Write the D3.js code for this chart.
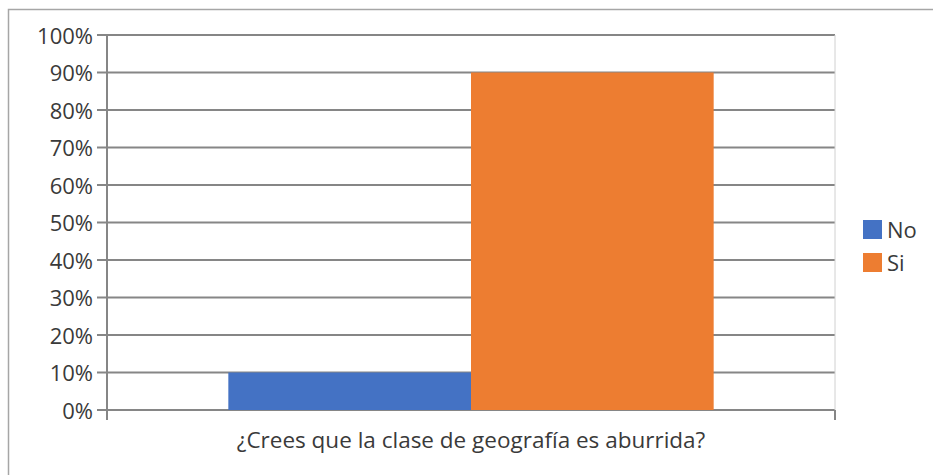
<!DOCTYPE html>
<html>
<head>
<meta charset="utf-8">
<script src="https://unpkg.com/d3@7.8.5/dist/d3.min.js"></script>
<style>
  body { margin: 0; background: #fff; }
  text { font-family: "Open Sans", "Liberation Sans", sans-serif; fill: #3a3a3a; }
</style>
</head>
<body>
<div id="chart"></div>
<script>
let category = "¿Crees que la clase de geografía es aburrida?";
let series = ["No", "Si"];
let values = [0.10, 0.90];
let colors = ["#4472C4", "#ED7D31"];
let ticks = [0, 0.1, 0.2, 0.3, 0.4, 0.5, 0.6, 0.7, 0.8, 0.9, 1.0];

let width = 933;
let height = 475;
let margin = {top: 35, right: 98, bottom: 65, left: 107};

let svg = d3.select("#chart").append("svg")
    .attr("width", width)
    .attr("height", height);

// outer chart border (only top/left visible in the crop)
svg.append("path")
    .attr("d", `M8.5,${height} V9.5 H${width}`)
    .attr("fill", "none")
    .attr("stroke", "#a6a6a6")
    .attr("stroke-width", 1.5);

let x0 = d3.scaleBand()
    .domain([category])
    .range([margin.left, width - margin.right]);

let x1 = d3.scaleBand()
    .domain(series)
    .range([0, x0.bandwidth()])
    .paddingOuter(0.5)
    .paddingInner(0);

let y = d3.scaleLinear()
    .domain([0, 1])
    .range([height - margin.bottom, margin.top]);

// gridlines
svg.append("g")
    .selectAll("line")
    .data(ticks)
    .join("line")
        .attr("x1", margin.left - 10)
        .attr("x2", width - margin.right)
        .attr("y1", d => y(d))
        .attr("y2", d => y(d))
        .attr("stroke", "#868686")
        .attr("stroke-width", 2);

// right plot edge
svg.append("line")
    .attr("x1", width - margin.right)
    .attr("x2", width - margin.right)
    .attr("y1", margin.top)
    .attr("y2", y(0) + 10)
    .attr("stroke", "#d0d0d0")
    .attr("stroke-width", 1);
svg.append("line")
    .attr("x1", width - margin.right)
    .attr("x2", width - margin.right)
    .attr("y1", y(0))
    .attr("y2", y(0) + 10)
    .attr("stroke", "#868686")
    .attr("stroke-width", 2);

// bars
svg.append("g")
    .selectAll("rect")
    .data(series)
    .join("rect")
        .attr("x", d => x0(category) + x1(d))
        .attr("y", (d, i) => y(values[i]))
        .attr("width", x1.bandwidth())
        .attr("height", (d, i) => y(0) - y(values[i]))
        .attr("fill", (d, i) => colors[i]);

// y axis line
svg.append("line")
    .attr("x1", margin.left)
    .attr("x2", margin.left)
    .attr("y1", margin.top)
    .attr("y2", y(0) + 10)
    .attr("stroke", "#868686")
    .attr("stroke-width", 2);

// y tick labels
svg.append("g")
    .selectAll("text")
    .data(ticks)
    .join("text")
        .attr("x", margin.left - 14)
        .attr("y", d => y(d))
        .attr("dy", "0.4em")
        .attr("text-anchor", "end")
        .attr("font-size", 22)
        .text(d => d3.format(".0%")(d));

// x label
svg.append("text")
    .attr("x", x0(category) + x0.bandwidth() / 2)
    .attr("y", 448)
    .attr("text-anchor", "middle")
    .attr("font-size", 22.5)
    .text(category);

// legend
let legend = svg.append("g")
    .selectAll("g")
    .data(series)
    .join("g")
        .attr("transform", (d, i) => `translate(863,${220 + i * 33})`);
legend.append("rect")
    .attr("width", 19)
    .attr("height", 19)
    .attr("fill", (d, i) => colors[i]);
legend.append("text")
    .attr("x", 24)
    .attr("y", 18)
    .attr("font-size", 22)
    .text(d => d);
</script>
</body>
</html>
